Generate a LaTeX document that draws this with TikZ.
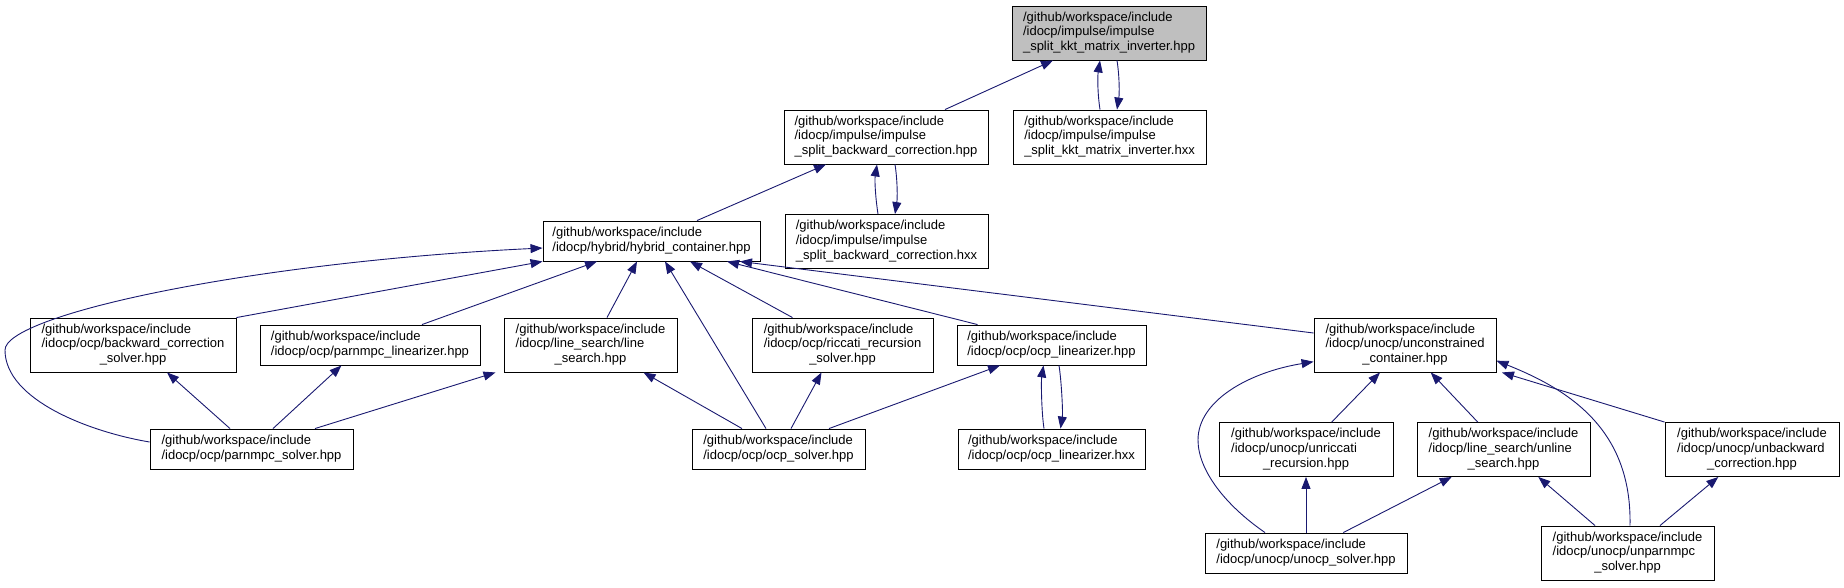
\documentclass[tikz,border=0pt]{standalone}
\usepackage{fontspec}
\setmainfont{Liberation Sans}
\usetikzlibrary{arrows.meta,calc}
\definecolor{edgec}{HTML}{191970}
\definecolor{topfill}{HTML}{BFBFBF}
\newcommand\twol[2]{\begin{tabular}{@{}l@{}}#1\\\multicolumn{1}{@{}c@{}}{#2}\end{tabular}}
\newcommand\threel[3]{\begin{tabular}{@{}l@{}}#1\\#2\\\multicolumn{1}{@{}c@{}}{#3}\end{tabular}}
\tikzset{
  box/.style={draw=black, line width=0.9pt, inner sep=0pt, font=\fontsize{13}{14.7}\selectfont, minimum height=54pt, anchor=center},
  boxtwo/.style={box, minimum height=40pt},
  edge/.style={draw=edgec, line width=0.9pt, -{Triangle[length=12pt,width=9pt]}},
}
\begin{document}
\begin{tikzpicture}[x=1pt,y=-1pt]
\useasboundingbox (0,0) rectangle (1844,587);
% nodes
\node[box, fill=topfill, minimum width=194pt] (A) at (1109,33) {\threel{/github/workspace/include}{/idocp/impulse/impulse}{\_split\_kkt\_matrix\_inverter.hpp}};
\node[box, minimum width=204pt] (B) at (886,137) {\threel{/github/workspace/include}{/idocp/impulse/impulse}{\_split\_backward\_correction.hpp}};
\node[box, minimum width=193pt] (C) at (1109.5,137) {\threel{/github/workspace/include}{/idocp/impulse/impulse}{\_split\_kkt\_matrix\_inverter.hxx}};
\node[boxtwo, minimum width=217pt] (D) at (651.5,241) {\twol{/github/workspace/include}{/idocp/hybrid/hybrid\_container.hpp}};
\node[box, minimum width=203pt] (E) at (886.5,241.5) {\threel{/github/workspace/include}{/idocp/impulse/impulse}{\_split\_backward\_correction.hxx}};
\node[box, minimum width=206pt] (F) at (133,345) {\threel{/github/workspace/include}{/idocp/ocp/backward\_correction}{\_solver.hpp}};
\node[boxtwo, minimum width=220pt] (G) at (370,345) {\twol{/github/workspace/include}{/idocp/ocp/parnmpc\_linearizer.hpp}};
\node[box, minimum width=173pt] (H) at (590.5,345) {\threel{/github/workspace/include}{/idocp/line\_search/line}{\_search.hpp}};
\node[boxtwo, minimum width=203pt] (I) at (251.5,449) {\twol{/github/workspace/include}{/idocp/ocp/parnmpc\_solver.hpp}};
\node[box, minimum width=181pt] (J) at (842.5,345) {\threel{/github/workspace/include}{/idocp/ocp/riccati\_recursion}{\_solver.hpp}};
\node[boxtwo, minimum width=189pt] (K) at (1051.5,345) {\twol{/github/workspace/include}{/idocp/ocp/ocp\_linearizer.hpp}};
\node[boxtwo, minimum width=173pt] (L) at (778.5,449) {\twol{/github/workspace/include}{/idocp/ocp/ocp\_solver.hpp}};
\node[boxtwo, minimum width=187pt] (M) at (1051.5,449) {\twol{/github/workspace/include}{/idocp/ocp/ocp\_linearizer.hxx}};
\node[box, minimum width=182pt] (N) at (1405,345) {\threel{/github/workspace/include}{/idocp/unocp/unconstrained}{\_container.hpp}};
\node[box, minimum width=174pt] (O) at (1306,449.5) {\threel{/github/workspace/include}{/idocp/unocp/unriccati}{\_recursion.hpp}};
\node[box, minimum width=173pt] (P) at (1503.5,449.5) {\threel{/github/workspace/include}{/idocp/line\_search/unline}{\_search.hpp}};
\node[box, minimum width=174pt] (Q) at (1752,449.5) {\threel{/github/workspace/include}{/idocp/unocp/unbackward}{\_correction.hpp}};
\node[boxtwo, minimum width=202pt] (R) at (1306,553) {\twol{/github/workspace/include}{/idocp/unocp/unocp\_solver.hpp}};
\node[box, minimum width=173pt] (S) at (1627.5,553) {\threel{/github/workspace/include}{/idocp/unocp/unparnmpc}{\_solver.hpp}};
% waypoints
\coordinate (wI1) at (5,350);
\coordinate (wR1) at (1198,440);
% edges
\draw[edge] ([xshift=59pt]B.north) -- ([xshift=-56pt]A.south);
\draw[edge] ([xshift=-9.5pt]C.north) .. controls +(-2.5,-16) and +(-2.5,16) .. ([xshift=-9pt]A.south);
\draw[edge] ([xshift=8pt]A.south) .. controls +(2.5,16) and +(2.5,-16) .. ([xshift=7.5pt]C.north);
\draw[edge] ([xshift=45.5pt]D.north) -- ([xshift=-60pt]B.south);
\draw[edge] ([xshift=-8.5pt]E.north) .. controls +(-2.5,-16) and +(-2.5,16) .. ([xshift=-9pt]B.south);
\draw[edge] ([xshift=9pt]B.south) .. controls +(2.5,16) and +(2.5,-16) .. ([xshift=8.5pt]E.north);
\draw[edge] (F.north east) -- (D.south west);
\draw[edge] ([yshift=7pt]I.west) .. controls (90,432) and (5,400) .. (wI1) .. controls (5,315) and (250,262) .. ([yshift=-7pt]D.west);
\draw[edge] ([xshift=52pt]G.north) -- ([xshift=-54.5pt]D.south);
\draw[edge] ([xshift=16.5pt]H.north) -- ([xshift=-14.5pt]D.south);
\draw[edge] ([xshift=-12.5pt]L.north) -- ([xshift=13.5pt]D.south);
\draw[edge] ([xshift=-50pt]J.north) -- ([xshift=38.5pt]D.south);
\draw[edge] ([xshift=-74pt]K.north) -- ([xshift=75.5pt]D.south);
\draw[edge] ([yshift=12pt]N.west) -- ([xshift=88.5pt]D.south);
\draw[edge] ([xshift=-21.5pt]I.north) -- ([xshift=34pt]F.south);
\draw[edge] ([xshift=21.5pt]I.north) -- ([xshift=-28.5pt]G.south);
\draw[edge] ([xshift=63.5pt]I.north) -- ([xshift=-95pt]H.south);
\draw[edge] ([xshift=-36.5pt]L.north) -- ([xshift=53pt]H.south);
\draw[edge] ([xshift=12.5pt]L.north) -- ([xshift=-21pt]J.south);
\draw[edge] ([xshift=50.5pt]L.north) -- ([xshift=-51.5pt]K.south);
\draw[edge] ([xshift=-7.5pt]M.north) .. controls +(-2.5,-16) and +(-2.5,16) .. ([xshift=-8pt]K.south);
\draw[edge] ([xshift=7.5pt]K.south) .. controls +(2.5,16) and +(2.5,-16) .. ([xshift=9pt]M.north);
\draw[edge] ([xshift=25.7pt]O.north) -- ([xshift=-25pt]N.south);
\draw[edge] ([xshift=-25.8pt]P.north) -- ([xshift=25.7pt]N.south);
\draw[edge] (Q.north west) -- ([xshift=5.5pt]N.south east);
\draw[edge] ([xshift=2.5pt]S.north) .. controls (1632,430) and (1570,390) .. ([yshift=-15.7pt]N.east);
\draw[edge] ([xshift=-41pt]R.north) .. controls (1225,505) and (1198,470) .. (wR1) .. controls (1198,400) and (1250,372) .. ([yshift=-16.7pt]N.west);
\draw[edge] (R.north) -- (O.south);
\draw[edge] ([xshift=37.3pt]R.north) -- ([xshift=-51.8pt]P.south);
\draw[edge] ([xshift=-32.5pt]S.north) -- ([xshift=34.8pt]P.south);
\draw[edge] ([xshift=32.5pt]S.north) -- ([xshift=-33.7pt]Q.south);
\end{tikzpicture}
\end{document}
